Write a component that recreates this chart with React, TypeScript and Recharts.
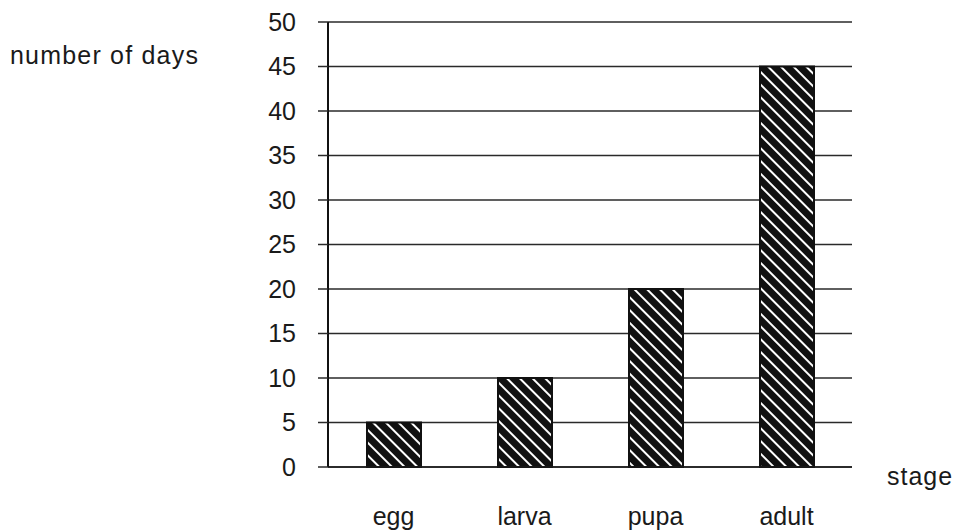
import React from 'react';
import { BarChart, Bar, XAxis, YAxis, CartesianGrid } from 'recharts';

const stages = ['egg', 'larva', 'pupa', 'adult'];
const days = [5, 10, 20, 45];
const yTicks = [0, 5, 10, 15, 20, 25, 30, 35, 40, 45, 50];

const data = stages.map((stage, i) => ({ stage, days: days[i] }));

const font = '"Liberation Sans", Arial, sans-serif';

function App() {
  return (
    <div style={{ position: 'absolute', left: 0, top: 0, width: 959, height: 531, background: '#fff', fontFamily: font }}>
      <div style={{ position: 'absolute', left: 10, top: 41, fontSize: 25, letterSpacing: 1.2, color: '#1a1a1a' }}>
        number of days
      </div>
      <div style={{ position: 'absolute', left: 887, top: 462, fontSize: 25, letterSpacing: 1, color: '#1a1a1a' }}>
        stage
      </div>
      <BarChart
        width={959}
        height={531}
        data={data}
        margin={{ top: 22, right: 107, left: 0, bottom: 0 }}
        style={{ position: 'absolute', left: 0, top: 0 }}
      >
        <defs>
          <pattern id="hatch" width="9" height="9" patternUnits="userSpaceOnUse" patternTransform="rotate(-45)">
            <rect width="9" height="9" fill="#111" />
            <rect x="0" y="0" width="2" height="9" fill="#fff" />
          </pattern>
        </defs>
        <CartesianGrid vertical={false} stroke="#2a2a2a" strokeWidth={1.5} />
        <XAxis
          dataKey="stage"
          height={64}
          tickLine={false}
          tickSize={0}
          tickMargin={40}
          axisLine={{ stroke: '#1a1a1a', strokeWidth: 1.5 }}
          tick={{ fill: '#1a1a1a', fontSize: 25, fontFamily: font }}
        />
        <YAxis
          width={328}
          domain={[0, 50]}
          ticks={yTicks}
          interval={0}
          tickSize={10}
          tickMargin={22}
          axisLine={{ stroke: '#111', strokeWidth: 2 }}
          tickLine={{ stroke: '#2a2a2a', strokeWidth: 1.5 }}
          tick={{ fill: '#1a1a1a', fontSize: 25, fontFamily: font }}
        />
        <Bar
          dataKey="days"
          barSize={54}
          fill="url(#hatch)"
          stroke="#111"
          strokeWidth={2}
          isAnimationActive={false}
        />
      </BarChart>
    </div>
  );
}

export default App;
